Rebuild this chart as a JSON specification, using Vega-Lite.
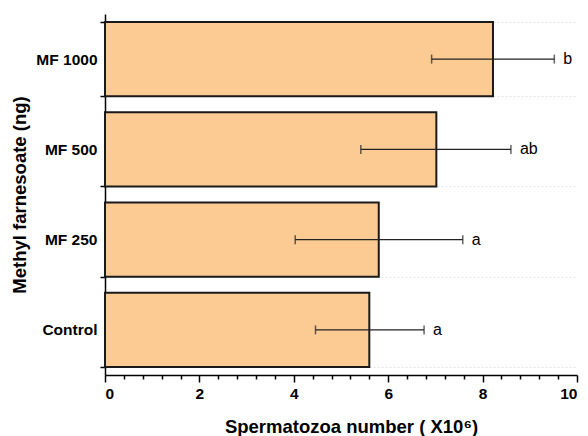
{
  "$schema": "https://vega.github.io/schema/vega-lite/v6.json",
  "autosize": "none",
  "width": 472,
  "height": 361,
  "padding": {"left": 105, "top": 14, "right": 11, "bottom": 61},
  "background": "white",
  "config": {
    "font": "Liberation Sans",
    "view": {"stroke": null}
  },
  "data": {
    "values": [
      {"group": "MF 1000", "mean": 8.22, "lo": 6.92, "hi": 9.52, "sig": "b"},
      {"group": "MF 500", "mean": 7.02, "lo": 5.42, "hi": 8.6, "sig": "ab"},
      {"group": "MF 250", "mean": 5.8, "lo": 4.03, "hi": 7.58, "sig": "a"},
      {"group": "Control", "mean": 5.6, "lo": 4.46, "hi": 6.76, "sig": "a"}
    ]
  },
  "encoding": {
    "y": {
      "field": "group",
      "type": "nominal",
      "sort": ["MF 1000", "MF 500", "MF 250", "Control"],
      "scale": {"paddingInner": 0.18, "paddingOuter": 0.09},
      "axis": {
        "title": "Methyl farnesoate (ng)",
        "titleFontSize": 18.5,
        "titleFontWeight": "bold",
        "titleColor": "black",
        "titlePadding": 6,
        "labelFontSize": 15.5,
        "labelFontWeight": "bold",
        "labelColor": "black",
        "labelPadding": 3,
        "tickBand": "extent",
        "tickSize": 5,
        "tickColor": "black",
        "tickWidth": 1.5,
        "domainColor": "black",
        "domainWidth": 1.5,
        "grid": true,
        "gridColor": "#e4e4e4",
        "gridDash": [2, 2]
      }
    }
  },
  "layer": [
    {
      "mark": {"type": "bar", "fill": "#FCCB93", "stroke": "#1a1a1a", "strokeWidth": 2},
      "encoding": {
        "x": {
          "field": "mean",
          "type": "quantitative",
          "scale": {"domain": [0, 10], "nice": false},
          "axis": {
            "orient": "bottom",
            "title": "Spermatozoa number ( X10⁶)",
            "titleFontSize": 18.5,
            "titleFontWeight": "bold",
            "titleColor": "black",
            "titlePadding": 16,
            "titleX": 246,
            "tickCount": 40,
            "values": [0, 0.4, 0.8, 1.2, 1.6, 2, 2.4, 2.8, 3.2, 3.6, 4, 4.4, 4.8, 5.2, 5.6, 6, 6.4, 6.8, 7.2, 7.6, 8, 8.4, 8.8, 9.2, 9.6, 10],
            "labelExpr": "datum.value % 2 === 0 ? '' + datum.value : ''",
            "labelOverlap": false,
            "labelBound": false,
            "labelFontSize": 15.5,
            "labelFontWeight": "bold",
            "labelColor": "black",
            "labelPadding": 4,
            "tickSize": {"condition": {"test": "datum.value % 2 === 0", "value": 7}, "value": 4},
            "tickColor": "black",
            "tickWidth": 1.5,
            "domainColor": "black",
            "domainWidth": 1.5,
            "grid": false
          }
        }
      }
    },
    {
      "mark": {"type": "rule", "color": "#222", "strokeWidth": 1.3},
      "encoding": {
        "x": {"field": "lo", "type": "quantitative"},
        "x2": {"field": "hi"}
      }
    },
    {
      "mark": {"type": "tick", "color": "#222", "thickness": 1.5, "size": 9},
      "encoding": {"x": {"field": "lo", "type": "quantitative"}}
    },
    {
      "mark": {"type": "tick", "color": "#222", "thickness": 1.5, "size": 9},
      "encoding": {"x": {"field": "hi", "type": "quantitative"}}
    },
    {
      "mark": {"type": "text", "align": "left", "baseline": "middle", "dx": 9, "fontSize": 16, "color": "black"},
      "encoding": {
        "x": {"field": "hi", "type": "quantitative"},
        "text": {"field": "sig"}
      }
    }
  ]
}
